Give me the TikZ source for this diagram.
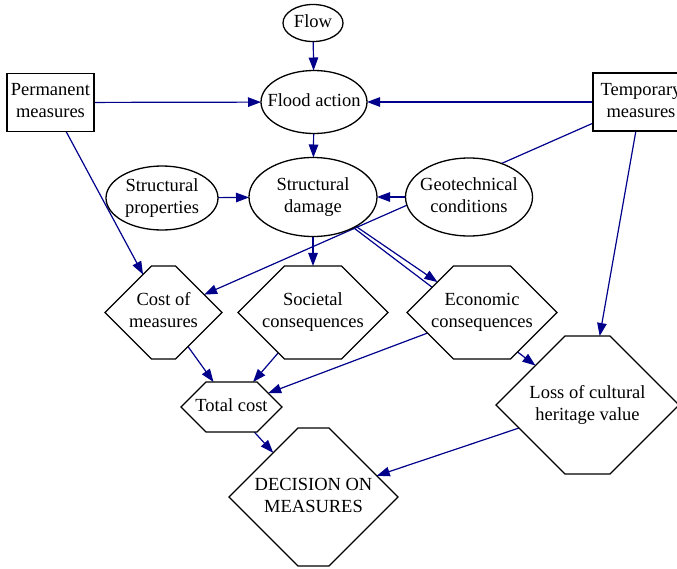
\documentclass[tikz,border=0pt]{standalone}
\usepackage{fontspec}
\setmainfont{Liberation Serif}
\usetikzlibrary{shapes.geometric,shapes.symbols,arrows.meta,backgrounds}
\definecolor{edgeblue}{RGB}{0,0,139}
\newcommand{\lbl}[1]{\makebox[0pt][c]{\begin{tabular}{@{}c@{}}#1\end{tabular}}}
\begin{document}
\begin{tikzpicture}[x=1pt,y=-1pt,
  font=\fontsize{18.5}{22}\selectfont,
  base/.style={draw=black, line width=1.3pt, fill=white, inner sep=0pt, outer sep=0pt},
  ell/.style 2 args={base, ellipse, minimum width=#1, minimum height=#2},
  boxnode/.style 2 args={base, rectangle, minimum width=#1, minimum height=#2},
  hexa/.style 2 args={base, signal, signal to=west and east, signal from=nowhere,
    signal pointer angle=90, minimum width=#1, minimum height=#2},
  link/.style={draw=edgeblue, line width=1.2pt, -{Triangle[length=13pt,width=9.5pt]}}]
\useasboundingbox (0,0) rectangle (677,568);
\clip (0,0) rectangle (677,568);

\node[ell={60}{37}] (flow) at (313,23) {\lbl{Flow}};
\node[ell={106}{63}] (flood) at (314,102) {\lbl{Flood action}};
\node[boxnode={87}{58}] (perm) at (50.5,102.5) {\lbl{Permanent\\measures}};
\node[boxnode={96}{58}, draw=none] (temp) at (641,102) {\lbl{Temporary\\measures}};
\draw[line width=1.3pt] (temp.north east) -- (temp.north west) -- (temp.south west) -- (temp.south east);
\node[ell={112}{64}] (sprop) at (162,198) {\lbl{Structural\\properties}};
\node[ell={128}{79}] (sdam) at (313,197) {\lbl{Structural\\damage}};
\node[ell={127}{78}] (geo) at (469,197) {\lbl{Geotechnical\\conditions}};
\node[hexa={117}{93}] (cost) at (163.5,312.5) {\lbl{Cost of\\measures}};
\node[hexa={150}{93}] (soc) at (313,312.5) {\lbl{Societal\\consequences}};
\node[hexa={150}{93}] (eco) at (482,312.5) {\lbl{Economic\\consequences}};
\node[hexa={101}{50}] (total) at (231.5,407) {\lbl{Total cost}};
\node[hexa={183}{138}] (loss) at (587.5,405) {\lbl{Loss of cultural\\heritage value}};
\node[hexa={169}{138}] (dec) at (313.5,497) {\lbl{DECISION ON\\MEASURES}};

\begin{pgfonlayer}{background}
\draw[link] (flow) -- (flood);
\draw[link] (perm) -- (flood);
\draw[link] (temp) -- (flood);
\draw[link] (flood) -- (sdam);
\draw[link] (sprop) -- (sdam);
\draw[link] (geo) -- (sdam);
\draw[link] (temp) -- (cost);
\draw[link] (perm) -- (cost);
\draw[link] (sdam) -- (soc);
\draw[link] (sdam) -- (eco);
\draw[link] (sdam) -- (loss);
\draw[link] (temp) -- (loss);
\draw[link] (cost) -- (total);
\draw[link] (soc) -- (total);
\draw[link] (eco) -- (total);
\draw[link] (total) -- (dec);
\draw[link] (loss) -- (dec);
\end{pgfonlayer}
\end{tikzpicture}
\end{document}
